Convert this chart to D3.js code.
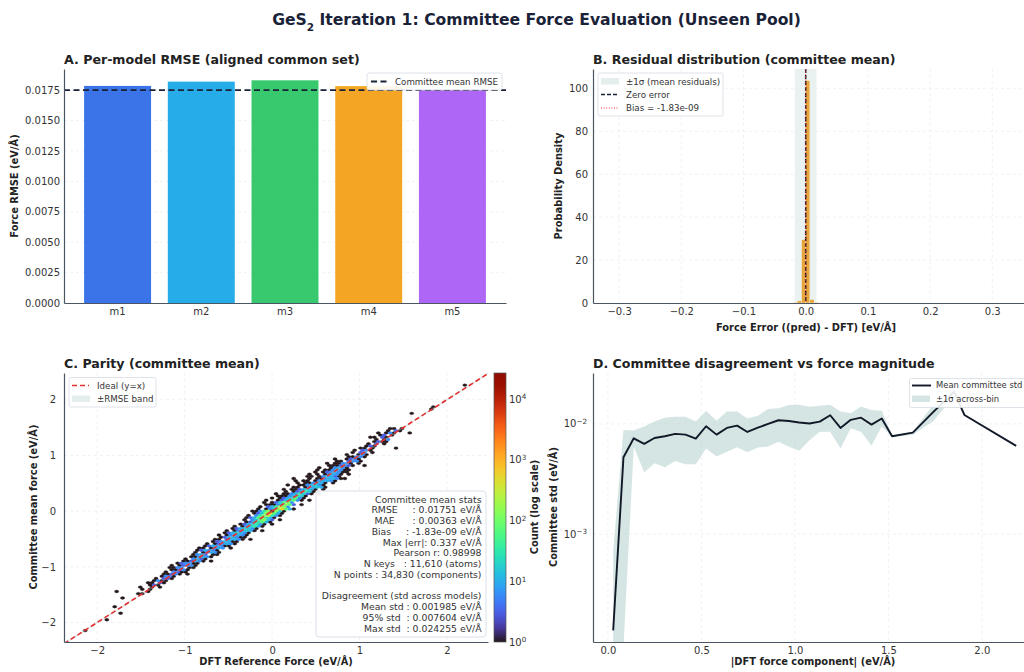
<!DOCTYPE html>
<html>
<head>
<meta charset="utf-8">
<script src="https://cdn.jsdelivr.net/npm/d3@7"></script>
<style>
  body { margin: 0; background: #fff; }
  svg text { font-family: "DejaVu Sans", sans-serif; }
</style>
</head>
<body>
<svg id="fig" width="1024" height="672"></svg>
<script>
// ---------- Panel A: per-model RMSE ----------
const models = ["m1", "m2", "m3", "m4", "m5"];
const modelRmse = [0.01785, 0.01820, 0.01831, 0.01783, 0.01757];
const modelColors = ["#3b73e9", "#26ace8", "#38c96e", "#f4a524", "#ad66f5"];
const committeeRmse = 0.01751;
const rmseTicks = [0, 0.0025, 0.005, 0.0075, 0.01, 0.0125, 0.015, 0.0175];

// ---------- Panel B: residual histogram (density) ----------
const residEdges = [-0.0202, -0.0135, -0.0067, 0, 0.0067, 0.0135, 0.0202];
const residDensity = [0.3, 1.0, 29.5, 103.6, 1.6, 0.3];
const residSigma = 0.0175;
const residBias = -1.83e-9;
const residXTicks = [-0.3, -0.2, -0.1, 0, 0.1, 0.2, 0.3];
const residYTicks = [0, 20, 40, 60, 80, 100];

// ---------- Panel C: parity hexbin ----------
// hex lattice bin sizes (data units) and per-row occupancy strings
const hexSx = 0.045, hexSy = 0.078;
// approximate count per cell code ("." = empty); "z" is the peak bin
const levelCounts = { "1": 1, "2": 3, "3": 6, "4": 10, "5": 16, "6": 32, "7": 64, "8": 128, "9": 256, "a": 512, "z": 27000 };
const countMax = 27000;
// [row index, column offset from the y=x column, cell codes]
const parityRows = [
  [58, -1, "1"], [48, -1, "1"], [47, -1, "1"], [45, -4, "1"],
  [38, -3, "11.1"], [37, -3, "1.21"], [36, -4, "1.131...1"], [35, -3, "12.1"],
  [34, -4, "11.21"], [33, -3, "1.13"], [32, -2, "1211"], [31, -3, "1.2.1"],
  [30, -2, "121"], [29, -3, "11.1.....1"], [28, -3, "1.231"], [27, -3, "1.23.1"],
  [26, -4, "1..131"], [25, -3, "11331"], [24, -5, "1..1231"], [23, -4, "11.2331"],
  [22, -5, "1.11331.1"], [21, -4, "1112321..1"], [20, -5, "1..13431"], [19, -5, "1.1134311"],
  [18, -5, "1.1234311"], [17, -6, "1.1.13431.1"], [16, -5, "11.134421"], [15, -8, "1...1.11344311"],
  [14, -6, "1.11.134431"], [13, -5, "1.113441.1"], [12, -6, "1..1134531"], [11, -5, "11.134541"],
  [10, -6, "1.1124541.1"], [9, -5, "1.124651"], [8, -6, "1.11346521.1"], [7, -5, "11134651"],
  [6, -5, "1.1245731"], [5, -6, "1..1246731.1"], [4, -5, "1.125783"], [3, -5, "11135872.1"],
  [2, -5, "1.246983"], [1, -5, "1.1358a741"], [0, -5, "11368z851"], [-1, -4, "1258a741"],
  [-2, -4, "1.3689631"], [-3, -4, "12478641"], [-4, -4, "1.357852.1"], [-5, -3, "1256741"],
  [-6, -3, "1245631.1"], [-7, -4, "1.135641"], [-8, -3, "1245531"], [-9, -4, "1.134541.1"],
  [-10, -3, "1245431"], [-11, -4, "1.134431"], [-12, -3, "1244311"], [-13, -4, "11.24431.1"],
  [-14, -3, "1234411"], [-15, -4, "1.123431"], [-16, -3, "1243311"], [-17, -4, "11.1343.1"],
  [-18, -3, "124331"], [-19, -4, "1.12431"], [-20, -3, "1342.11"], [-21, -3, "113431"],
  [-22, -3, "1.3421"], [-23, -3, "112431.1"], [-24, -3, "123311"], [-25, -4, "1.12331"],
  [-26, -3, "1133.11"], [-27, -3, "11231"], [-28, -3, "1.3211"], [-29, -3, "11231.1"],
  [-30, -2, "1321"], [-31, -3, "1.221"], [-32, -2, "1311"], [-33, -3, "11.21"],
  [-34, -2, "121"], [-35, -4, "1..1.1"], [-36, -2, "1.1"], [-37, -8, "1.......1"],
  [-38, -1, "11"], [-40, -3, "1"], [-44, -2, "1"], [-47, 2, "1"], [-50, 1, "1"], [-55, 0, "1"]
];
const parityTicks = [-2, -1, 0, 1, 2];
const cbarTicks = [1, 10, 100, 1000, 10000];
const statLines = [
  "Committee mean stats",
  "RMSE     : 0.01751 eV/Å",
  "MAE      : 0.00363 eV/Å",
  "Bias     : -1.83e-09 eV/Å",
  "Max |err|: 0.337 eV/Å",
  "Pearson r: 0.98998",
  "N keys   : 11,610 (atoms)",
  "N points : 34,830 (components)",
  "",
  "Disagreement (std across models)",
  "Mean std : 0.001985 eV/Å",
  "95% std  : 0.007604 eV/Å",
  "Max std  : 0.024255 eV/Å"
];

// ---------- Panel D: disagreement vs |F| ----------
const magCenters = [0.028, 0.083, 0.138, 0.194, 0.249, 0.304, 0.360, 0.415, 0.470, 0.525,
  0.581, 0.636, 0.691, 0.746, 0.802, 0.857, 0.912, 0.968, 1.023, 1.078,
  1.133, 1.189, 1.244, 1.299, 1.354, 1.410, 1.465, 1.520, 1.631, 1.741,
  1.852, 1.907, 2.184];
const stdMean = [0.000134, 0.00499, 0.00741, 0.00659, 0.00746, 0.00773, 0.00812, 0.0080, 0.00736, 0.00953,
  0.0080, 0.0092, 0.00966, 0.00846, 0.00927, 0.0100, 0.0108, 0.01065, 0.0103, 0.0101,
  0.0105, 0.0120, 0.0092, 0.0109, 0.0114, 0.00986, 0.0112, 0.00773, 0.00834, 0.01285,
  0.0196, 0.01207, 0.00632];
const stdLow = [0.00001, 0.00001, 0.0062, 0.00365, 0.0044, 0.00405, 0.00462, 0.0043, 0.0043, 0.0060,
  0.00506, 0.0056, 0.00614, 0.00554, 0.0061, 0.00623, 0.00691, 0.0062, 0.0057, 0.0071,
  0.0085, 0.0085, 0.0060, 0.00914, 0.0085, 0.00636, 0.0095, 0.0076, 0.0080, 0.01065,
  0.0180, 0.01207, 0.00632];
const stdHigh = [0.0007, 0.00883, 0.0087, 0.00946, 0.0105, 0.0114, 0.0116, 0.0116, 0.0105, 0.0131,
  0.0107, 0.0130, 0.0130, 0.0112, 0.0119, 0.01368, 0.0139, 0.01486, 0.0149, 0.0143,
  0.0146, 0.0149, 0.0130, 0.0125, 0.0144, 0.0134, 0.0132, 0.0079, 0.0085, 0.0150,
  0.0215, 0.01207, 0.00632];
const magTicks = [0, 0.5, 1, 1.5, 2];
const stdTicks = [1e-3, 1e-2];

// ======================================================================
const svg = d3.select("#fig");
const AXIS = "#4b5563", TICK = "#333", GRID = "#eceef2", NAVY = "#1a2238";
const minus = s => String(s).replace("-", "\u2212");

function styleAxis(g) {
  g.select(".domain").attr("stroke", AXIS).attr("stroke-width", 1.2);
  g.selectAll(".tick line").remove();
  g.selectAll(".tick text").attr("fill", TICK).style("font-size", "10px");
}
function hGrid(g, scale, ticks, x0, x1) {
  g.selectAll(null).data(ticks).join("line")
    .attr("x1", x0).attr("x2", x1).attr("y1", d => scale(d)).attr("y2", d => scale(d))
    .attr("stroke", GRID).attr("stroke-width", 0.8).attr("stroke-dasharray", "3,3");
}
function vGrid(g, scale, ticks, y0, y1) {
  g.selectAll(null).data(ticks).join("line")
    .attr("y1", y0).attr("y2", y1).attr("x1", d => scale(d)).attr("x2", d => scale(d))
    .attr("stroke", GRID).attr("stroke-width", 0.8).attr("stroke-dasharray", "3,3");
}
function title(x, y, s) {
  svg.append("text").attr("x", x).attr("y", y).attr("fill", "#222")
    .style("font-size", "12.6px").style("font-weight", "bold").text(s);
}
function yLabel(x, y, s) {
  svg.append("text").attr("transform", `translate(${x},${y}) rotate(-90)`)
    .attr("text-anchor", "middle").attr("fill", "#222")
    .style("font-size", "9.9px").style("font-weight", "bold").text(s);
}
function xLabel(x, y, s) {
  svg.append("text").attr("x", x).attr("y", y).attr("text-anchor", "middle").attr("fill", "#222")
    .style("font-size", "9.9px").style("font-weight", "bold").text(s);
}
function legendBox(g, x, y, w, h) {
  g.append("rect").attr("x", x).attr("y", y).attr("width", w).attr("height", h)
    .attr("rx", 2).attr("fill", "#fff").attr("fill-opacity", 0.9)
    .attr("stroke", "#d5dbe3").attr("stroke-width", 0.8);
}
function legendText(g, x, y, s, size) {
  g.append("text").attr("x", x).attr("y", y).attr("dy", "0.35em").attr("fill", "#333")
    .style("font-size", (size || 8.7) + "px").text(s);
}

// ---------------- Main title ----------------
const mt = svg.append("text").attr("x", 536.5).attr("y", 25).attr("text-anchor", "middle")
  .attr("fill", NAVY).style("font-size", "15.6px").style("font-weight", "bold");
mt.append("tspan").text("GeS");
mt.append("tspan").attr("baseline-shift", "sub").style("font-size", "10.5px").text("2");
mt.append("tspan").text(" Iteration 1: Committee Force Evaluation (Unseen Pool)");

// ---------------- Panel A ----------------
{
  const L = 64, R = 506, T = 69, B = 303;
  const x = d3.scaleBand().domain(models).range([L, R]).paddingInner(0.2).paddingOuter(0.24);
  const y = d3.scaleLinear().domain([0, 0.01924]).range([B, T]);
  const g = svg.append("g");
  hGrid(g, y, rmseTicks.slice(1), L, R);
  g.selectAll("rect.bar").data(models).join("rect").attr("class", "bar")
    .attr("x", d => x(d)).attr("width", x.bandwidth())
    .attr("y", (d, i) => y(modelRmse[i])).attr("height", (d, i) => B - y(modelRmse[i]))
    .attr("fill", (d, i) => modelColors[i]);
  g.append("line").attr("x1", L).attr("x2", R).attr("y1", y(committeeRmse)).attr("y2", y(committeeRmse))
    .attr("stroke", NAVY).attr("stroke-width", 1.8).attr("stroke-dasharray", "6,3.5");
  const ax = g.append("g").attr("transform", `translate(0,${B})`)
    .call(d3.axisBottom(x).tickSize(0).tickPadding(5));
  styleAxis(ax);
  const ay = g.append("g").attr("transform", `translate(${L},0)`)
    .call(d3.axisLeft(y).tickValues(rmseTicks).tickFormat(d3.format(".4f")).tickSize(0).tickPadding(4));
  styleAxis(ay);
  const lg = g.append("g");
  legendBox(lg, 367, 73, 135, 17);
  lg.append("line").attr("x1", 371).attr("x2", 388).attr("y1", 81.5).attr("y2", 81.5)
    .attr("stroke", NAVY).attr("stroke-width", 1.8).attr("stroke-dasharray", "6,3.5");
  legendText(lg, 395, 81.5, "Committee mean RMSE");
  title(64, 64, "A. Per-model RMSE (aligned common set)");
  yLabel(18, 186, "Force RMSE (eV/Å)");
}

// ---------------- Panel B ----------------
{
  const L = 593, R = 1024, T = 69, B = 303;
  const x = d3.scaleLinear().domain([-0.342, 0.351]).range([L, R]);
  const y = d3.scaleLinear().domain([0, 109]).range([B, T]);
  const g = svg.append("g");
  vGrid(g, x, residXTicks, T, B);
  hGrid(g, y, residYTicks.slice(1), L, R);
  g.append("rect").attr("x", x(-residSigma)).attr("width", x(residSigma) - x(-residSigma))
    .attr("y", T).attr("height", B - T).attr("fill", "#e9f2f1");
  const bins = residDensity.map((v, i) => ({ x0: residEdges[i], x1: residEdges[i + 1], v }));
  g.selectAll("rect.h").data(bins).join("rect").attr("class", "h")
    .attr("x", d => x(d.x0)).attr("width", d => x(d.x1) - x(d.x0))
    .attr("y", d => y(d.v)).attr("height", d => B - y(d.v))
    .attr("fill", "#e6a63b").attr("stroke", "#fff").attr("stroke-width", 0.3);
  g.append("line").attr("x1", x(0)).attr("x2", x(0)).attr("y1", T).attr("y2", B)
    .attr("stroke", NAVY).attr("stroke-width", 1.5).attr("stroke-dasharray", "4,2");
  g.append("line").attr("x1", x(residBias)).attr("x2", x(residBias)).attr("y1", T).attr("y2", B)
    .attr("stroke", "#e3342f").attr("stroke-width", 1.2).attr("stroke-dasharray", "1,1.6");
  const ax = g.append("g").attr("transform", `translate(0,${B})`)
    .call(d3.axisBottom(x).tickValues(residXTicks).tickFormat(d => minus(d3.format(".1f")(d))).tickSize(0).tickPadding(5));
  styleAxis(ax);
  const ay = g.append("g").attr("transform", `translate(${L},0)`)
    .call(d3.axisLeft(y).tickValues(residYTicks).tickSize(0).tickPadding(5));
  styleAxis(ay);
  const lg = g.append("g");
  legendBox(lg, 598, 73, 125, 43);
  lg.append("rect").attr("x", 601).attr("y", 78).attr("width", 18).attr("height", 6.5).attr("fill", "#e3eeed");
  lg.append("line").attr("x1", 601).attr("x2", 619).attr("y1", 94.5).attr("y2", 94.5)
    .attr("stroke", NAVY).attr("stroke-width", 1.5).attr("stroke-dasharray", "4,2");
  lg.append("line").attr("x1", 601).attr("x2", 619).attr("y1", 108).attr("y2", 108)
    .attr("stroke", "#e3342f").attr("stroke-width", 1.2).attr("stroke-dasharray", "1,1.6");
  legendText(lg, 626, 81.5, "±1σ (mean residuals)");
  legendText(lg, 626, 94.5, "Zero error");
  legendText(lg, 626, 108, "Bias = -1.83e-09");
  title(593, 64, "B. Residual distribution (committee mean)");
  yLabel(562, 186, "Probability Density");
  xLabel(806, 331, "Force Error ((pred) - DFT) [eV/Å]");
}

// ---------------- Panel C ----------------
{
  const L = 64, R = 488, T = 373, B = 642;
  const x = d3.scaleLinear().domain([-2.38, 2.47]).range([L, R]);
  const y = d3.scaleLinear().domain([-2.35, 2.48]).range([B, T]);
  const color = d3.scaleSequentialLog(d3.interpolateTurbo).domain([1, countMax]);
  const g = svg.append("g");
  const clipId = "clipC";
  svg.append("clipPath").attr("id", clipId).append("rect")
    .attr("x", L).attr("y", T).attr("width", R - L).attr("height", B - T);
  vGrid(g, x, parityTicks, T, B);
  hGrid(g, y, parityTicks, L, R);

  const cells = [];
  parityRows.forEach(([k, off, s]) => {
    const half = Math.abs(k % 2) === 1 ? 0.5 : 0;
    const base = Math.round(k * hexSy / 2 / hexSx);
    [...s].forEach((ch, i) => {
      if (ch === ".") return;
      cells.push({ cx: (base + off + i + half) * hexSx, cy: k * hexSy / 2, n: levelCounts[ch] });
    });
  });
  cells.sort((a, b) => a.n - b.n);
  const hexPath = d => {
    const hx = hexSx / 2, hy = hexSy / 6, ht = hexSy / 3;
    const pts = [[d.cx + hx, d.cy - hy], [d.cx + hx, d.cy + hy], [d.cx, d.cy + ht],
                 [d.cx - hx, d.cy + hy], [d.cx - hx, d.cy - hy], [d.cx, d.cy - ht]];
    return "M" + pts.map(p => `${x(p[0])},${y(p[1])}`).join("L") + "Z";
  };
  const hg = g.append("g").attr("clip-path", `url(#${clipId})`);
  hg.selectAll("path.hex").data(cells).join("path").attr("class", "hex")
    .attr("d", hexPath).attr("fill", d => color(d.n)).attr("stroke", d => color(d.n)).attr("stroke-width", 0.35);

  // ±RMSE band and ideal line
  const lo = -2.38, hi = 2.47;
  hg.append("path")
    .attr("d", `M${x(lo)},${y(lo - committeeRmse)}L${x(hi)},${y(hi - committeeRmse)}L${x(hi)},${y(hi + committeeRmse)}L${x(lo)},${y(lo + committeeRmse)}Z`)
    .attr("fill", "#9fc5c1").attr("fill-opacity", 0.35);
  hg.append("line").attr("x1", x(lo)).attr("y1", y(lo)).attr("x2", x(hi)).attr("y2", y(hi))
    .attr("stroke", "#e53030").attr("stroke-width", 1.6).attr("stroke-dasharray", "5,3");

  const ax = g.append("g").attr("transform", `translate(0,${B})`)
    .call(d3.axisBottom(x).tickValues(parityTicks).tickFormat(d => minus(d)).tickSize(0).tickPadding(5));
  styleAxis(ax);
  const ay = g.append("g").attr("transform", `translate(${L},0)`)
    .call(d3.axisLeft(y).tickValues(parityTicks).tickFormat(d => minus(d)).tickSize(0).tickPadding(8));
  styleAxis(ay);

  // legend
  const lg = g.append("g");
  legendBox(lg, 69, 377.5, 87, 29.5);
  lg.append("line").attr("x1", 72).attr("x2", 89).attr("y1", 385.5).attr("y2", 385.5)
    .attr("stroke", "#e53030").attr("stroke-width", 1.6).attr("stroke-dasharray", "5,3");
  lg.append("rect").attr("x", 72).attr("y", 395.5).attr("width", 18).attr("height", 6.5).attr("fill", "#e3eeed");
  legendText(lg, 97, 385.5, "Ideal (y=x)");
  legendText(lg, 97, 399, "±RMSE band");

  // stats box
  const sb = g.append("g");
  sb.append("rect").attr("x", 316).attr("y", 491).attr("width", 170).attr("height", 146)
    .attr("rx", 3).attr("fill", "#fff").attr("fill-opacity", 0.92)
    .attr("stroke", "#d5dde8").attr("stroke-width", 0.9);
  sb.selectAll("text").data(statLines).join("text")
    .attr("x", 481.5).attr("y", (d, i) => 502.5 + i * 10.75)
    .attr("text-anchor", "end").attr("fill", "#333")
    .style("font-size", "9.3px").style("white-space", "pre").text(d => d);

  // colorbar
  const cbL = 494, cbR = 506;
  const cy = d3.scaleLog().domain([1, countMax]).range([B, T]);
  const defs = svg.append("defs");
  const grad = defs.append("linearGradient").attr("id", "turboGrad")
    .attr("x1", 0).attr("y1", 1).attr("x2", 0).attr("y2", 0);
  d3.range(0, 1.0001, 0.05).forEach(t => grad.append("stop").attr("offset", t).attr("stop-color", d3.interpolateTurbo(t)));
  g.append("rect").attr("x", cbL).attr("y", T).attr("width", cbR - cbL).attr("height", B - T)
    .attr("fill", "url(#turboGrad)").attr("stroke", "#555").attr("stroke-width", 0.7);
  const ct = g.append("g");
  cbarTicks.forEach(v => {
    const t = ct.append("text").attr("x", 509).attr("y", cy(v)).attr("dy", "0.35em")
      .attr("fill", TICK).style("font-size", "10px");
    t.append("tspan").text("10");
    t.append("tspan").attr("dy", "-0.45em").style("font-size", "7.2px").text(String(Math.round(Math.log10(v))));
  });
  yLabel(538, 507, "Count (log scale)");
  title(64, 368, "C. Parity (committee mean)");
  yLabel(37, 507, "Committee mean force (eV/Å)");
  xLabel(276, 665, "DFT Reference Force (eV/Å)");
}

// ---------------- Panel D ----------------
{
  const L = 593, R = 1036, T = 373, B = 642;
  const x = d3.scaleLinear().domain([-0.08, 2.29]).range([L, R]);
  const y = d3.scaleLog().domain([1.05e-4, 0.029]).range([B, T]);
  const g = svg.append("g");
  svg.append("clipPath").attr("id", "clipD").append("rect")
    .attr("x", L).attr("y", T).attr("width", R - L).attr("height", B - T);
  vGrid(g, x, magTicks, T, B);
  hGrid(g, y, stdTicks, L, R);
  const pts = magCenters.map((m, i) => ({ m, mean: stdMean[i], lo: stdLow[i], hi: stdHigh[i] }));
  const pg = g.append("g").attr("clip-path", "url(#clipD)");
  const yc = v => Math.min(B + 5, y(v));
  pg.append("path").datum(pts)
    .attr("d", d3.area().x(d => x(d.m)).y0(d => yc(d.lo)).y1(d => yc(d.hi)))
    .attr("fill", "#a9cbc8").attr("fill-opacity", 0.5);
  pg.append("path").datum(pts)
    .attr("d", d3.line().x(d => x(d.m)).y(d => y(d.mean)))
    .attr("fill", "none").attr("stroke", "#111827").attr("stroke-width", 1.9).attr("stroke-linejoin", "round");
  const ax = g.append("g").attr("transform", `translate(0,${B})`)
    .call(d3.axisBottom(x).tickValues(magTicks).tickFormat(d3.format(".1f")).tickSize(0).tickPadding(5));
  styleAxis(ax);
  const ay = g.append("g").attr("transform", `translate(${L},0)`)
    .call(d3.axisLeft(y).tickValues(stdTicks).tickFormat("").tickSize(0));
  styleAxis(ay);
  stdTicks.forEach(v => {
    const t = g.append("text").attr("x", 587).attr("y", y(v)).attr("dy", "0.35em")
      .attr("text-anchor", "end").attr("fill", TICK).style("font-size", "10px");
    t.append("tspan").text("10");
    t.append("tspan").attr("dy", "-0.45em").style("font-size", "7.2px").text("\u2212" + Math.round(-Math.log10(v)));
  });
  const lg = g.append("g");
  legendBox(lg, 909.5, 378.5, 140, 29);
  lg.append("line").attr("x1", 912).attr("x2", 931).attr("y1", 385.5).attr("y2", 385.5)
    .attr("stroke", "#111827").attr("stroke-width", 1.9);
  lg.append("rect").attr("x", 912).attr("y", 395.5).attr("width", 18).attr("height", 6.5)
    .attr("fill", "#a9cbc8").attr("fill-opacity", 0.5);
  legendText(lg, 936, 385.5, "Mean committee std", 8.4);
  legendText(lg, 936, 399, "±1σ across-bin", 8.4);
  title(593, 368, "D. Committee disagreement vs force magnitude");
  yLabel(557, 507, "Committee std (eV/Å)");
  xLabel(813, 665, "|DFT force component| (eV/Å)");
}
</script>
</body>
</html>
